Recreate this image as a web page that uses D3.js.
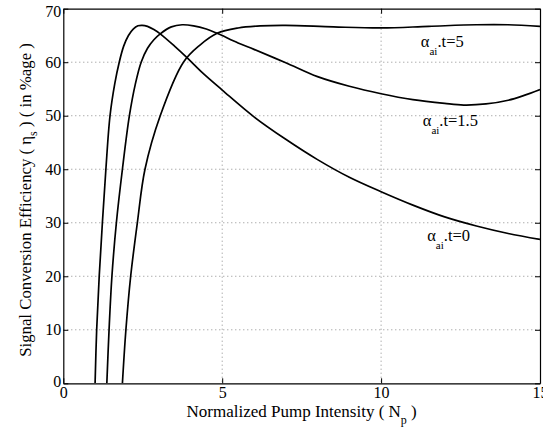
<!DOCTYPE html>
<html lang="en">
<head>
<meta charset="utf-8">
<title>Signal Conversion Efficiency</title>
<script src="https://cdn.jsdelivr.net/npm/d3@7"></script>
<style>
  body { margin: 0; background: #fff; }
  text { font-family: "Liberation Serif", "Times New Roman", serif; fill: #000; }
</style>
</head>
<body>
<svg id="chart" width="543" height="438"></svg>
<script>
// axis ticks
var xTicks = [0, 5, 10, 15];
var yTicks = [0, 10, 20, 30, 40, 50, 60, 70];

// alpha_ai t = 0
var np0  = [1.0, 1.05, 1.13, 1.23, 1.34, 1.47, 1.62, 1.76, 1.9, 2.05, 2.2, 2.35, 2.48, 2.65, 2.85, 3.05, 3.5, 3.9, 4.4, 5.0, 6, 7, 8, 9, 10, 11, 12, 13, 14, 15];
var eta0 = [0, 10, 20, 30, 40, 50, 56, 60, 63, 65.0, 66.2, 66.8, 66.9, 66.7, 66.1, 65.3, 63.0, 60.8, 57.9, 54.8, 49.8, 45.6, 41.8, 38.5, 35.8, 33.3, 31.1, 29.4, 28.0, 26.9];

// alpha_ai t = 1.5
var np15  = [1.37, 1.44, 1.53, 1.67, 1.86, 2.08, 2.27, 2.45, 2.65, 2.85, 3.05, 3.4, 3.74, 4.1, 4.5, 4.84, 5.5, 6, 7, 8, 9, 10, 11, 12, 12.6, 13.3, 14, 14.5, 15];
var eta15 = [0, 10, 20, 30, 40, 50, 56, 60, 62.6, 64.2, 65.3, 66.6, 67.0, 66.8, 66.2, 65.4, 63.6, 62.4, 59.9, 57.3, 55.5, 54.1, 53.0, 52.3, 52.0, 52.2, 52.9, 53.8, 54.9];

// alpha_ai t = 5
var np5  = [1.86, 1.97, 2.12, 2.33, 2.57, 3.05, 3.78, 4.3, 4.84, 5.5, 6.2, 7.0, 8.5, 10, 11.5, 13, 14, 15];
var eta5 = [0, 10, 20, 30, 40, 50, 60, 63.2, 65.4, 66.4, 66.8, 66.9, 66.6, 66.4, 66.7, 67.0, 67.0, 66.7];

var seriesNames = ["0", "1.5", "5"];

var svg = d3.select("#chart");
// plot box (note: "top" is reserved on window, so use p-prefixed names)
var pLeft = 63.3, pRight = 540, pTop = 8.7, pBottom = 383.3;

var x = d3.scaleLinear().domain([0, 15]).range([pLeft, pRight]);
var y = d3.scaleLinear().domain([0, 70]).range([pBottom, pTop]);

// dotted grid
var grid = svg.append("g").attr("stroke", "#8c8c8c").attr("stroke-width", 1)
  .attr("stroke-dasharray", "1,3");
grid.selectAll("line.gx").data(xTicks.slice(1, -1)).enter().append("line")
  .attr("x1", d => x(d)).attr("x2", d => x(d)).attr("y1", pTop).attr("y2", pBottom);
grid.selectAll("line.gy").data(yTicks.slice(1, -1)).enter().append("line")
  .attr("x1", pLeft).attr("x2", pRight).attr("y1", d => y(d)).attr("y2", d => y(d));

// curves
svg.append("clipPath").attr("id", "clip").append("rect")
  .attr("x", pLeft).attr("y", pTop).attr("width", pRight - pLeft).attr("height", pBottom - pTop);

var line = d3.line().x(d => x(d[0])).y(d => y(d[1])).curve(d3.curveCatmullRom.alpha(0.5));
var series = [d3.zip(np0, eta0), d3.zip(np15, eta15), d3.zip(np5, eta5)];
svg.append("g").attr("clip-path", "url(#clip)").selectAll("path").data(series).enter()
  .append("path").attr("d", line).attr("fill", "none")
  .attr("stroke", "#000").attr("stroke-width", 1.7);

// axes with inward ticks
function styleAxis(g) {
  g.select(".domain").attr("stroke", "#000").attr("stroke-width", 1.2);
  g.selectAll(".tick line").attr("stroke", "#000");
  g.selectAll(".tick text").attr("font-size", 16).style("font-family", "'Liberation Serif', serif");
}
svg.append("g").attr("transform", "translate(0," + pBottom + ")")
  .call(d3.axisBottom(x).tickValues(xTicks).tickSize(-5).tickSizeOuter(0).tickPadding(3))
  .call(styleAxis);
var yAxisG = svg.append("g").attr("transform", "translate(" + pLeft + ",0)")
  .call(d3.axisLeft(y).tickValues(yTicks).tickSize(-5).tickSizeOuter(0).tickPadding(2))
  .call(styleAxis);
// matlab nudges the end labels inside the box a little
yAxisG.selectAll(".tick text").attr("dy", d => d === 70 ? "0.5em" : (d === 0 ? "0.2em" : "0.32em"));
svg.append("g").attr("transform", "translate(0," + pTop + ")")
  .call(d3.axisTop(x).tickValues(xTicks).tickSize(-5).tickSizeOuter(0).tickFormat(""))
  .call(styleAxis);
svg.append("g").attr("transform", "translate(" + pRight + ",0)")
  .call(d3.axisRight(y).tickValues(yTicks).tickSize(-5).tickSizeOuter(0).tickFormat(""))
  .call(styleAxis);

// axis titles
var xt = svg.append("text").attr("x", (pLeft + pRight) / 2).attr("y", 417)
  .attr("text-anchor", "middle").attr("font-size", 17);
xt.append("tspan").text("Normalized Pump Intensity ( N");
xt.append("tspan").attr("font-size", 12).attr("dy", 7).text("p");
xt.append("tspan").attr("dy", -7).text(" )");

var yt = svg.append("text").attr("transform", "translate(31,200) rotate(-90)")
  .attr("text-anchor", "middle").attr("font-size", 16.8);
yt.append("tspan").text("Signal Conversion Efficiency ( \u03b7");
yt.append("tspan").attr("font-size", 12).attr("dy", 6).text("s");
yt.append("tspan").attr("dy", -6).text(" ) ( in %age )");

// curve labels
var labelPos = [[11.45, 26.5], [11.31, 48.0], [11.25, 62.9]];
seriesNames.forEach(function (name, i) {
  var t = svg.append("text").attr("x", x(labelPos[i][0])).attr("y", y(labelPos[i][1]))
    .attr("font-size", 16.5);
  t.append("tspan").text("\u03b1");
  t.append("tspan").attr("font-size", 11).attr("dy", 8).text("ai");
  t.append("tspan").attr("dy", -8).text(".t=" + name);
});
</script>
</body>
</html>
